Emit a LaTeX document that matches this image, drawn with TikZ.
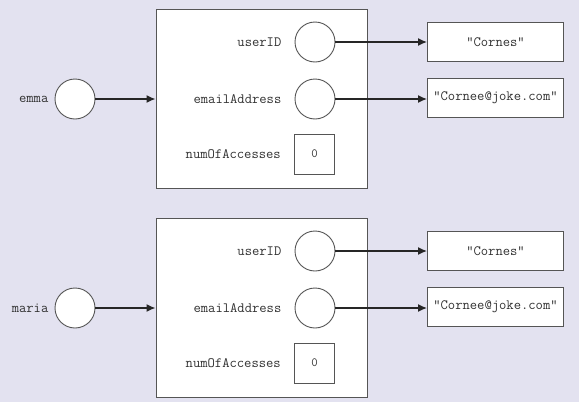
\documentclass[tikz,border=0pt]{standalone}
\usepackage{xcolor}
\usetikzlibrary{positioning, arrows.meta}
\definecolor{bgcol}{RGB}{227,226,240}
\definecolor{linecol}{RGB}{85,85,85}
\definecolor{textcol}{RGB}{50,50,50}
\newcommand{\codetext}{\ttfamily\fontsize{14.2}{17}\selectfont}
\tikzset{
    ref/.style={circle, draw=linecol, fill=white, line width=0.9pt, minimum size=40pt, inner sep=0pt}, % reference variable
    object/.style={draw=linecol, fill=white, line width=1pt, minimum width=211pt, minimum height=179pt, inner sep=0pt}, % object on the heap
    value/.style={draw=linecol, fill=white, line width=1pt, minimum width=136pt, minimum height=39pt, inner sep=0pt, font=\codetext, text=textcol},
    prim/.style={draw=linecol, fill=white, line width=1pt, minimum size=40pt, inner sep=0pt, font=\ttfamily\fontsize{12.5}{14}\selectfont, text=textcol},
    field/.style={font=\codetext, text=textcol, inner sep=2pt},
    pointer/.style={-{Latex[length=9pt,width=8pt]}, line width=1.4pt, draw=black!85},
}

\begin{document}
\begin{tikzpicture}[x=1pt, y=-1pt]
    \fill[bgcol] (0,0) rectangle (579,402);

    % emma
    \node[object] (obj1) at (261.5,98.5) {};
    \node[ref] (emma) at (75,99) {};
    \node[field] (emmaL) [left=4pt of emma] {emma};
    \node[ref] (uid1) at (315,42) {};
    \node[ref] (mail1) at (315,99) {};
    \node[prim] (num1) at (314.5,154) {0};
    \node[field] (uidL1) [left=11pt of uid1] {userID};
    \node[field] (mailL1) [left=11pt of mail1] {emailAddress};
    \node[field] (numL1) [left=11pt of num1] {numOfAccesses};
    \node[value] (name1) at (495.5,42) {"Cornes"};
    \node[value] (addr1) at (495.5,98) {"Cornee@joke.com"};

    % maria
    \node[object] (obj2) at (261.5,307.5) {};
    \node[ref] (maria) at (75,308) {};
    \node[field] (mariaL) [left=4pt of maria] {maria};
    \node[ref] (uid2) at (315,251) {};
    \node[ref] (mail2) at (315,308) {};
    \node[prim] (num2) at (314.5,363) {0};
    \node[field] (uidL2) [left=11pt of uid2] {userID};
    \node[field] (mailL2) [left=11pt of mail2] {emailAddress};
    \node[field] (numL2) [left=11pt of num2] {numOfAccesses};
    \node[value] (name2) at (495.5,251) {"Cornes"};
    \node[value] (addr2) at (495.5,307) {"Cornee@joke.com"};

    % references
    \draw[pointer] (emma.east) -- (emma.east -| obj1.west);
    \draw[pointer] (uid1.east) -- (uid1.east -| name1.west);
    \draw[pointer] (mail1.east) -- (mail1.east -| addr1.west);
    \draw[pointer] (maria.east) -- (maria.east -| obj2.west);
    \draw[pointer] (uid2.east) -- (uid2.east -| name2.west);
    \draw[pointer] (mail2.east) -- (mail2.east -| addr2.west);
\end{tikzpicture}
\end{document}
